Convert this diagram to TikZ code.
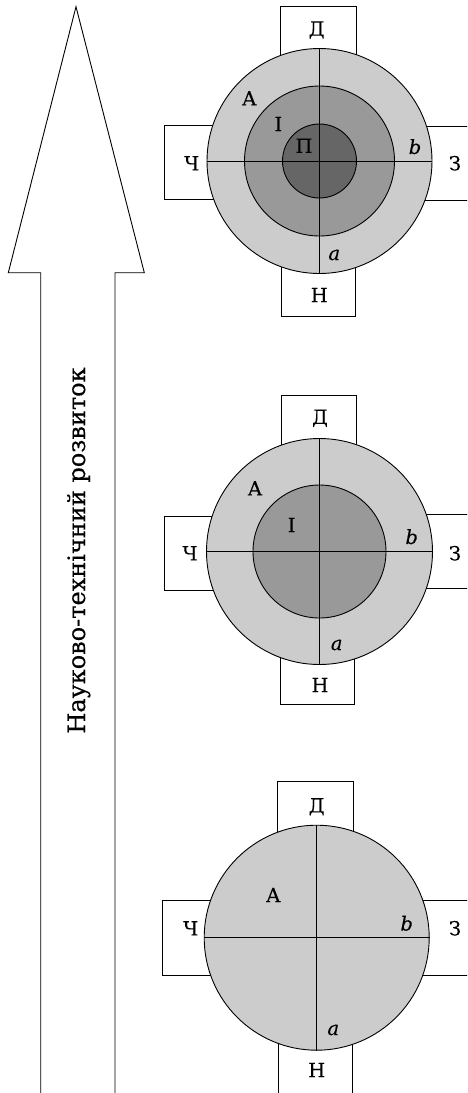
\documentclass[tikz,border=0pt]{standalone}
\usepackage{fontspec}
\setmainfont[FakeBold=0.3]{DejaVu Serif}

\begin{document}
\begin{tikzpicture}
    [x=1pt, y=-1pt,
    csty/.style={circle, draw, line width=0.9pt, inner sep=0pt},
    bsty/.style={draw, fill=white, line width=0.9pt},
    lsty/.style={inner sep=0pt, font=\fontsize{19.5}{21}\selectfont},
    isty/.style={inner sep=0pt, font=\fontsize{19.5}{21}\selectfont\itshape}]
    \useasboundingbox (0,0) rectangle (467,1093);
    \clip (0,0) rectangle (467,1093);
    % arrow
    \draw[line width=0.9pt] (40.7,1100) -- (40.7,272.7) -- (8.3,272.7) -- (76,6.7) -- (144.3,272.7) -- (115,272.7) -- (115,1100);
    \node[rotate=90, anchor=base, inner sep=0pt, font=\fontsize{24}{26}\selectfont] (nt) at (85,550.5) {Науково-технічний розвиток};
    % top diagram
    \draw[bsty] (280.3,6) rectangle (356,161);
    \draw[bsty] (164,125) rectangle (319.5,199.3);
    \draw[bsty] (319.5,126) rectangle (480,200);
    \draw[bsty] (281,161) rectangle (355.3,316);
    \node[csty, fill=black!20, minimum size=225pt] (o1) at (319.5,161) {};
    \node[csty, fill=black!40, minimum size=150pt] (m1) at (319.5,161) {};
    \node[csty, fill=black!60, minimum size=74pt]  (p1) at (319.5,161) {};
    \draw[line width=0.9pt] (o1.north) -- (o1.south);
    \draw[line width=0.9pt] (o1.west) -- (o1.east);
    \node[lsty] (d1) at (316.7,30)    {Д};
    \node[lsty] (c1) at (191.7,163.3) {Ч};
    \node[lsty] (z1) at (455,163.3)   {З};
    \node[lsty] (n1) at (319.3,295)   {Н};
    \node[lsty] (a1) at (249.3,98.3)  {А};
    \node[lsty] (i1) at (278.3,124)   {I};
    \node[lsty] (pp1) at (304,145.7)  {П};
    \node[isty] (vb1) at (415,146.7)  {b};
    \node[isty] (va1) at (334.3,255)  {a};
    % middle diagram
    \draw[bsty] (281,395.7) rectangle (356.7,551.5);
    \draw[bsty] (164.3,516) rectangle (319.5,590);
    \draw[bsty] (319.5,514.3) rectangle (480,588.3);
    \draw[bsty] (280,551.5) rectangle (354.3,704.3);
    \node[csty, fill=black!20, minimum size=226pt] (o2) at (319.5,551.5) {};
    \node[csty, fill=black!40, minimum size=133pt] (m2) at (319.5,551.5) {};
    \draw[line width=0.9pt] (o2.north) -- (o2.south);
    \draw[line width=0.9pt] (o2.west) -- (o2.east);
    \node[lsty] (d2) at (320,418.3)   {Д};
    \node[lsty] (c2) at (190,553.3)   {Ч};
    \node[lsty] (z2) at (455,553.3)   {З};
    \node[lsty] (n2) at (320,685)     {Н};
    \node[lsty] (a2) at (255,488.3)   {А};
    \node[lsty] (i2) at (291.7,525)   {I};
    \node[isty] (vb2) at (411.7,536.7) {b};
    \node[isty] (va2) at (336.7,645)  {a};
    % bottom diagram
    \draw[bsty] (277.7,781.7) rectangle (353.3,937.7);
    \draw[bsty] (162.3,900.7) rectangle (316.7,975);
    \draw[bsty] (316.7,900) rectangle (480,975);
    \draw[bsty] (278.3,937.7) rectangle (352.3,1100);
    \node[csty, fill=black!20, minimum size=225pt] (o3) at (316.7,937.7) {};
    \draw[line width=0.9pt] (o3.north) -- (o3.south);
    \draw[line width=0.9pt] (o3.west) -- (o3.east);
    \node[lsty] (d3) at (316.7,806.7) {Д};
    \node[lsty] (c3) at (190.7,928.3) {Ч};
    \node[lsty] (z3) at (455,928.3)   {З};
    \node[lsty] (n3) at (316.7,1070)  {Н};
    \node[lsty] (a3) at (273.3,895)   {А};
    \node[isty] (vb3) at (406.7,923.3) {b};
    \node[isty] (va3) at (333.3,1030) {a};
\end{tikzpicture}
\end{document}
